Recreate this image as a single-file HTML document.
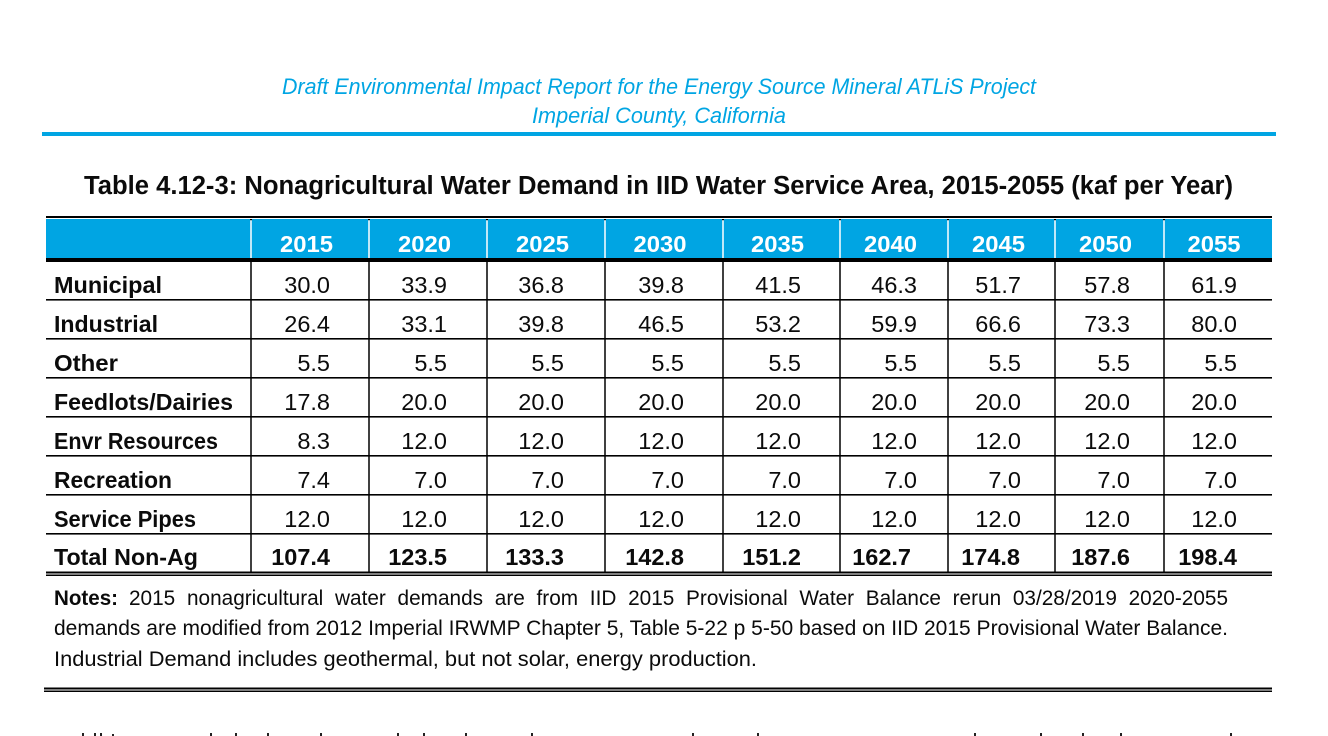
<!DOCTYPE html>
<html lang="en">
<head>
<meta charset="utf-8">
<title>Table 4.12-3: Nonagricultural Water Demand</title>
<style>
html,body{margin:0;padding:0;background:#fff;width:1328px;height:736px;overflow:hidden}
svg{display:block;position:absolute;left:0;top:0}
text{font-family:"Liberation Sans",sans-serif;fill:#0b0b0b}
</style>
</head>
<body>
<svg id="page" width="1328" height="736" viewBox="0 0 1328 736" xmlns="http://www.w3.org/2000/svg">
  <rect x="0" y="0" width="1328" height="736" fill="#ffffff"/>
  <text x="282" y="94" font-size="22" font-style="italic" style="fill:#00a5e3" textLength="754" lengthAdjust="spacingAndGlyphs">Draft Environmental Impact Report for the Energy Source Mineral ATLiS Project</text>
  <text x="532" y="123" font-size="22" font-style="italic" style="fill:#00a5e3" textLength="254" lengthAdjust="spacingAndGlyphs">Imperial County, California</text>
  <rect x="42" y="132" width="1234" height="4" fill="#00a5e3"/>
  <text x="84" y="194" font-size="25.5" font-weight="bold" textLength="1149" lengthAdjust="spacingAndGlyphs">Table 4.12-3: Nonagricultural Water Demand in IID Water Service Area, 2015-2055 (kaf per Year)</text>

  <rect x="46" y="216" width="1226" height="2" fill="#000"/>
  <rect x="46" y="219" width="1226" height="39" fill="#00a5e3"/>
  <rect x="46" y="258" width="1226" height="4" fill="#000"/>
  <g id="grid"></g>
  <g id="cells"></g>
  <rect x="46" y="571.5" width="1226" height="2" fill="#000"/>
  <rect x="46" y="574.5" width="1226" height="1.5" fill="#000"/>

  <text x="54" y="605" font-size="21" font-weight="bold" textLength="64" lengthAdjust="spacingAndGlyphs">Notes:</text>
  <text x="129" y="605" font-size="21" style="word-spacing:6px" textLength="1099" lengthAdjust="spacingAndGlyphs">2015 nonagricultural water demands are from IID 2015 Provisional Water Balance rerun 03/28/2019 2020-2055</text>
  <text x="54" y="635" font-size="21" textLength="1174" lengthAdjust="spacingAndGlyphs">demands are modified from 2012 Imperial IRWMP Chapter 5, Table 5-22 p 5-50 based on IID 2015 Provisional Water Balance.</text>
  <text x="54" y="666" font-size="21" textLength="703" lengthAdjust="spacingAndGlyphs">Industrial Demand includes geothermal, but not solar, energy production.</text>

  <rect x="44" y="687.5" width="1228" height="2" fill="#000"/>
  <rect x="44" y="690.5" width="1228" height="1.5" fill="#000"/>
  <g fill="#222">
    <rect x="82" y="733" width="2" height="3"/><rect x="94" y="733" width="2" height="3"/><rect x="100" y="733" width="2" height="3"/><rect x="112" y="734" width="2" height="2"/>
    <rect x="210" y="733" width="2" height="3"/><rect x="235" y="733" width="2" height="3"/><rect x="267" y="733" width="2" height="3"/><rect x="320" y="733" width="2" height="3"/>
    <rect x="397" y="733" width="2" height="3"/><rect x="423" y="733" width="2" height="3"/><rect x="465" y="733" width="2" height="3"/><rect x="531" y="733" width="2" height="3"/>
    <rect x="692" y="733" width="2" height="3"/><rect x="757" y="733" width="2" height="3"/><rect x="974" y="734" width="2" height="2"/><rect x="974" y="733" width="2" height="3"/>
    <rect x="974" y="733" width="2" height="3"/><rect x="1040" y="733" width="2" height="3"/><rect x="1082" y="733" width="2" height="3"/><rect x="1120" y="733" width="2" height="3"/>
    <rect x="1230" y="733" width="2" height="3"/>
  </g>
</svg>
<script>
const years = [2015, 2020, 2025, 2030, 2035, 2040, 2045, 2050, 2055];
const rowLabels = ['Municipal', 'Industrial', 'Other', 'Feedlots/Dairies', 'Envr Resources', 'Recreation', 'Service Pipes'];
const municipal = [30.0, 33.9, 36.8, 39.8, 41.5, 46.3, 51.7, 57.8, 61.9];
const industrial = [26.4, 33.1, 39.8, 46.5, 53.2, 59.9, 66.6, 73.3, 80.0];
const other = [5.5, 5.5, 5.5, 5.5, 5.5, 5.5, 5.5, 5.5, 5.5];
const feedlots = [17.8, 20.0, 20.0, 20.0, 20.0, 20.0, 20.0, 20.0, 20.0];
const envrResources = [8.3, 12.0, 12.0, 12.0, 12.0, 12.0, 12.0, 12.0, 12.0];
const recreation = [7.4, 7.0, 7.0, 7.0, 7.0, 7.0, 7.0, 7.0, 7.0];
const servicePipes = [12.0, 12.0, 12.0, 12.0, 12.0, 12.0, 12.0, 12.0, 12.0];
const totalLabel = 'Total Non-Ag';
const totals = [107.4, 123.5, 133.3, 142.8, 151.2, 162.7, 174.8, 187.6, 198.4];
const series = [municipal, industrial, other, feedlots, envrResources, recreation, servicePipes];

const NS = 'http://www.w3.org/2000/svg';
const grid = document.getElementById('grid');
const cells = document.getElementById('cells');
const colLines = [251, 369, 487, 605, 723, 840, 948, 1055, 1164];
const colRight = [330, 447, 564, 684, 801, 917, 1021, 1130, 1237];
const totalRight = [330, 447, 564, 684, 801, 911, 1020, 1130, 1237];
const headerCenter = [306.5, 424.5, 542.5, 660, 777.5, 890.5, 998.5, 1105.5, 1214];
const labelWidths = [108, 104, 64, 179, 164, 118, 142];
const rowY = i => 293 + i * 39;
const fontSize = 23.5;

function addRect(x, y, w, h, fill, name) {
  const r = document.createElementNS(NS, 'rect');
  r.setAttribute('x', x);
  r.setAttribute('y', y);
  r.setAttribute('width', w);
  r.setAttribute('height', h);
  r.setAttribute('fill', fill);
  
  
  grid.appendChild(r);
}

function addText(str, x, y, anchor, bold, fill, name, width) {
  const t = document.createElementNS(NS, 'text');
  t.textContent = str;
  t.setAttribute('x', x);
  t.setAttribute('y', y);
  t.setAttribute('font-size', fontSize);
  t.setAttribute('text-anchor', anchor);
  if (bold) t.setAttribute('font-weight', 'bold');
  if (fill) t.style.fill = fill;
  if (width) {
    t.setAttribute('textLength', width);
    t.setAttribute('lengthAdjust', 'spacingAndGlyphs');
  }
  
  
  cells.appendChild(t);
}

for (let i = 0; i < 7; i++) {
  addRect(46, 299 + i * 39, 1226, 1.6, '#000', 'row-rule');
}
colLines.forEach(function (x) {
  addRect(x - 0.75, 220, 1.5, 38, '#ffffff', 'header-column-divider');
  addRect(x - 1, 219, 2, 1.2, '#000', 'header-column-tick');
  addRect(x - 0.75, 262, 1.5, 310, '#000', 'column-rule');
});

years.forEach(function (y, c) {
  addText(String(y), headerCenter[c], 252, 'middle', true, '#ffffff', 'year-header-' + y, 53);
});
rowLabels.forEach(function (label, r) {
  addText(label, 54, rowY(r), 'start', true, null, 'row-label', labelWidths[r]);
  series[r].forEach(function (v, c) {
    addText(v.toFixed(1), colRight[c], rowY(r), 'end', false, null, 'cell-value');
  });
});
addText(totalLabel, 54, 565, 'start', true, null, 'total-row-label', 144);
totals.forEach(function (v, c) {
  addText(v.toFixed(1), totalRight[c], 565, 'end', true, null, 'total-value');
});
</script>
</body>
</html>
